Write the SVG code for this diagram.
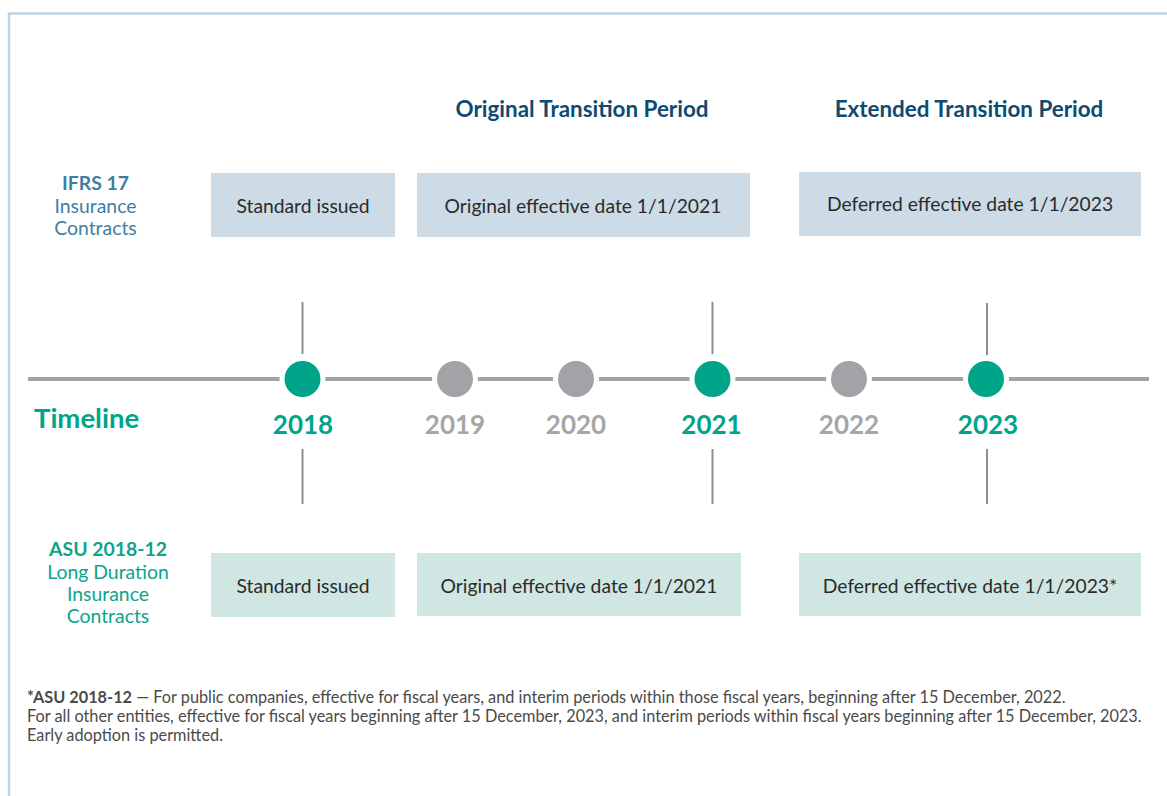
<svg xmlns="http://www.w3.org/2000/svg" width="1167" height="796" viewBox="0 0 1167 796">
  <style>
    text { font-family: Lato, "Liberation Sans", sans-serif; }
    .frame { fill: none; stroke: #bfd3e4; stroke-width: 2.5; }
    .axis { stroke: #a2a3a6; stroke-width: 4; fill: none; }
    .tick { stroke: #8c8d91; stroke-width: 2; }
    .dot-on { fill: #00a489; stroke: #fff; stroke-width: 10; paint-order: stroke; }
    .dot-off { fill: #a2a3a6; stroke: #fff; stroke-width: 10; paint-order: stroke; }
    .year { font-size: 26px; font-weight: 700; text-anchor: middle; }
    .year-on { fill: #00a489; }
    .year-off { fill: #a5a6a9; }
    .heading { font-size: 22.4px; font-weight: 700; fill: #0e4a72; text-anchor: middle; }
    .box-ifrs { fill: #cddbe6; }
    .box-asu { fill: #cfe6e2; }
    .box-text { font-size: 19.3px; fill: #2b2b2b; text-anchor: middle; }
    .lbl-ifrs { font-size: 19.4px; fill: #3f7ea3; text-anchor: middle; }
    .lbl-asu { font-size: 19.4px; fill: #0ea38b; text-anchor: middle; }
    .b { font-weight: 700; }
    .note { font-size: 16.3px; fill: #4a4a4a; }
  </style>

  <!-- page frame (top and left edges) -->
  <path class="frame" d="M9 796 V13.5 H1170"/>

  <!-- period headings -->
  <g id="heading-original"><text class="heading" x="582" y="117">Original Transition Period</text></g>
  <g id="heading-extended"><text class="heading" x="969" y="117">Extended Transition Period</text></g>

  <!-- IFRS 17 row -->
  <g id="label-ifrs">
    <text class="lbl-ifrs b" x="95.5" y="190">IFRS 17</text>
    <text class="lbl-ifrs" x="95.5" y="213">Insurance</text>
    <text class="lbl-ifrs" x="95.5" y="234.5">Contracts</text>
  </g>
  <g id="ifrs-issued">
    <rect class="box-ifrs" x="211" y="173" width="184" height="64"/>
    <text class="box-text" x="303" y="212.5">Standard issued</text>
  </g>
  <g id="ifrs-original">
    <rect class="box-ifrs" x="417" y="173" width="333" height="64"/>
    <text class="box-text" x="583" y="212.5">Original effective date 1/1/2021</text>
  </g>
  <g id="ifrs-deferred">
    <rect class="box-ifrs" x="799" y="172" width="342" height="64"/>
    <text class="box-text" x="970" y="210.5">Deferred effective date 1/1/2023</text>
  </g>

  <!-- timeline axis and ticks -->
  <g id="connectors">
    <line class="axis" x1="28" y1="379" x2="1149" y2="379"/>
    <line class="tick" x1="302.5" y1="302" x2="302.5" y2="354"/>
    <line class="tick" x1="302.5" y1="449" x2="302.5" y2="504"/>
    <line class="tick" x1="712.5" y1="302" x2="712.5" y2="354"/>
    <line class="tick" x1="712.5" y1="449" x2="712.5" y2="504"/>
    <line class="tick" x1="987" y1="303" x2="987" y2="355"/>
    <line class="tick" x1="987" y1="449" x2="987" y2="504"/>
  </g>

  <g id="timeline-label"><text x="34" y="428" font-size="27.5" font-weight="700" fill="#00a489">Timeline</text></g>

  <g id="y2018">
    <circle class="dot-on" cx="302.5" cy="379" r="18"/>
    <text class="year year-on" x="303" y="434">2018</text>
  </g>
  <g id="y2019">
    <circle class="dot-off" cx="455" cy="379" r="18"/>
    <text class="year year-off" x="455" y="434">2019</text>
  </g>
  <g id="y2020">
    <circle class="dot-off" cx="576" cy="379" r="18"/>
    <text class="year year-off" x="576" y="434">2020</text>
  </g>
  <g id="y2021">
    <circle class="dot-on" cx="712.5" cy="379" r="18"/>
    <text class="year year-on" x="711.5" y="434">2021</text>
  </g>
  <g id="y2022">
    <circle class="dot-off" cx="849" cy="379" r="18"/>
    <text class="year year-off" x="849" y="434">2022</text>
  </g>
  <g id="y2023">
    <circle class="dot-on" cx="986" cy="379" r="18"/>
    <text class="year year-on" x="988" y="434">2023</text>
  </g>

  <!-- ASU 2018-12 row -->
  <g id="label-asu">
    <text class="lbl-asu b" x="108" y="556">ASU 2018-12</text>
    <text class="lbl-asu" x="108" y="578.5">Long Duration</text>
    <text class="lbl-asu" x="108" y="600.5">Insurance</text>
    <text class="lbl-asu" x="108" y="622.5">Contracts</text>
  </g>
  <g id="asu-issued">
    <rect class="box-asu" x="211" y="553" width="184" height="64"/>
    <text class="box-text" x="303" y="592.5">Standard issued</text>
  </g>
  <g id="asu-original">
    <rect class="box-asu" x="417" y="553" width="324" height="63"/>
    <text class="box-text" x="579" y="592.5">Original effective date 1/1/2021</text>
  </g>
  <g id="asu-deferred">
    <rect class="box-asu" x="799" y="553" width="342" height="63"/>
    <text class="box-text" x="970" y="592.5">Deferred effective date 1/1/2023*</text>
  </g>

  <!-- footnote -->
  <g id="footnote">
    <text class="note" x="27" y="703"><tspan class="b">*ASU 2018-12</tspan> — For public companies, effective for fiscal years, and interim periods within those fiscal years, beginning after 15 December, 2022.</text>
    <text class="note" x="27" y="722">For all other entities, effective for fiscal years beginning after 15 December, 2023, and interim periods within fiscal years beginning after 15 December, 2023.</text>
    <text class="note" x="27" y="740.5">Early adoption is permitted.</text>
  </g>
</svg>
